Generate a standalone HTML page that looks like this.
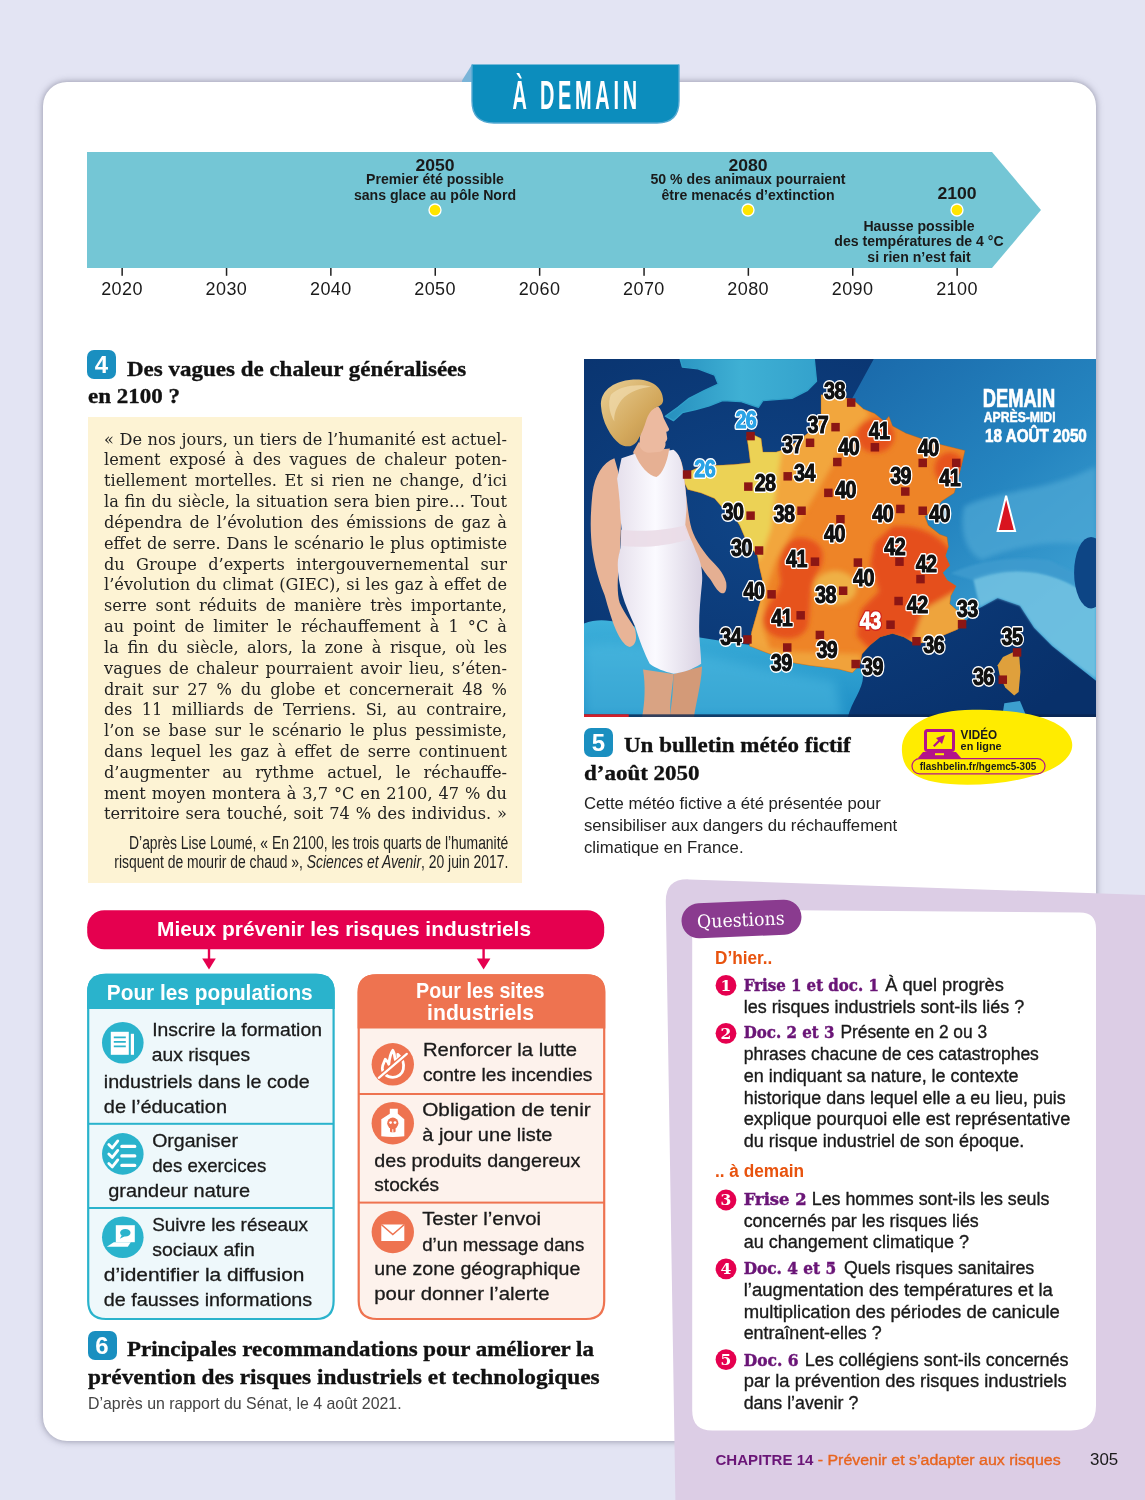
<!DOCTYPE html>
<html lang="fr">
<head>
<meta charset="utf-8">
<title>À demain</title>
<style>
*{box-sizing:border-box;margin:0;padding:0}
html,body{width:1145px;height:1500px;overflow:hidden}
body{background:#e3e4f3;position:relative;font-family:"Liberation Sans","DejaVu Sans",sans-serif;color:#1a1a1a}
.abs{position:absolute}
.nw{white-space:nowrap}
#card{left:43px;top:82px;width:1053px;height:1359px;background:#fff;border-radius:24px;box-shadow:0 0 7px 0 rgba(70,70,95,.55)}
#qpanel{left:667px;top:870px;width:478px;height:630px}
#tab{left:462px;top:64px;width:220px;height:62px}
/* timeline */
#tl{left:0;top:140px;width:1145px;height:170px}
.yr{position:absolute;top:278px;width:60px;margin-left:-30px;text-align:center;font-size:18px;line-height:22px;color:#1a1a1a;letter-spacing:.4px}
.ev{position:absolute;text-align:center;font-weight:bold;font-size:14.1px;line-height:15.4px;color:#1a1a1a;white-space:nowrap;transform:translateX(-50%)}
.ev b{font-size:15.6px;display:block;line-height:15px;position:relative;top:.8px;transform:scaleX(1.13)}
/* doc titles */
.num{position:absolute;width:29px;height:29px;border-radius:7px;background:#1a8fc0;color:#fff;font-weight:bold;font-size:24px;line-height:29px;text-align:center}
.h{position:absolute;font-family:"Liberation Serif","DejaVu Serif",serif;font-weight:bold;font-size:22px;line-height:30px;color:#111;white-space:nowrap;transform-origin:0 0;transform:scaleX(1.045);-webkit-text-stroke:.35px #111}
#ybox{left:88px;top:416.5px;width:434px;height:466.5px;background:#fdf3d4}
.jl{position:absolute;left:104px;width:403px;font-family:"DejaVu Serif","Liberation Serif",serif;font-size:16.2px;line-height:21px;height:21px;text-align:justify;text-align-last:justify;white-space:nowrap;color:#222}
.src{position:absolute;right:636.5px;font-size:18px;line-height:21px;white-space:nowrap;color:#222;transform-origin:100% 0;transform:scaleX(.772)}
.cap{position:absolute;font-size:16.7px;line-height:21.7px;color:#222;white-space:nowrap}
</style>
</head>
<body>
<div id="card" class="abs"></div>
<!--QP_S--><svg class="abs" style="left:640px;top:860px" width="505" height="640" viewBox="640 860 505 640" font-family="'Liberation Sans','DejaVu Sans',sans-serif">
<path d="M665.8,902 Q665.3,878.6 689,879.4 L1145,895 V1500 H675.4Z" fill="#dccde5"/>
<path d="M692.2,930 V1410.5 Q692.2,1430.5 712.2,1430.5 H1071 Q1096,1430.5 1096,1405.5 V928.5 Q1096,912.5 1080,912.4 L712,909.6 Q692.2,909.5 692.2,930Z" fill="#fff"/>
<g transform="rotate(-2.4 741 919)"><rect x="681.5" y="901.5" width="120" height="35" rx="17.5" fill="#8a3b8f"/><text x="697" y="926.3" font-family="'DejaVu Serif','Liberation Serif',serif" font-size="18.5" fill="#fff" textLength="87.5" lengthAdjust="spacingAndGlyphs">Questions</text></g>
<text x="715.0" y="963.8" font-size="17.5" fill="#e8530e" font-weight="bold" textLength="57.3" lengthAdjust="spacingAndGlyphs">D’hier..</text>
<text x="715.0" y="1177.2" font-size="17.5" fill="#e8530e" font-weight="bold" textLength="89.1" lengthAdjust="spacingAndGlyphs">.. à demain</text>
<circle cx="726" cy="985.4" r="10.4" fill="#e5004f"/><text x="726" y="990.8" font-size="15.5" font-weight="bold" fill="#fff" text-anchor="middle" font-family="'DejaVu Serif','Liberation Serif',serif">1</text>
<circle cx="726" cy="1033.3" r="10.4" fill="#e5004f"/><text x="726" y="1038.7" font-size="15.5" font-weight="bold" fill="#fff" text-anchor="middle" font-family="'DejaVu Serif','Liberation Serif',serif">2</text>
<circle cx="726" cy="1200.0" r="10.4" fill="#e5004f"/><text x="726" y="1205.4" font-size="15.5" font-weight="bold" fill="#fff" text-anchor="middle" font-family="'DejaVu Serif','Liberation Serif',serif">3</text>
<circle cx="726" cy="1268.8" r="10.4" fill="#e5004f"/><text x="726" y="1274.2" font-size="15.5" font-weight="bold" fill="#fff" text-anchor="middle" font-family="'DejaVu Serif','Liberation Serif',serif">4</text>
<circle cx="726" cy="1359.6" r="10.4" fill="#e5004f"/><text x="726" y="1365.0" font-size="15.5" font-weight="bold" fill="#fff" text-anchor="middle" font-family="'DejaVu Serif','Liberation Serif',serif">5</text>
<text x="743.7" y="990.7" font-size="17.5" fill="#6a1577" font-weight="bold" font-family="'DejaVu Serif','Liberation Serif',serif" stroke="#6a1577" stroke-width=".5" textLength="135.2" lengthAdjust="spacingAndGlyphs">Frise 1 et doc. 1</text>
<text x="885.2" y="990.7" font-size="18" fill="#1a1a1a" stroke="#1a1a1a" stroke-width=".35" textLength="118.7" lengthAdjust="spacingAndGlyphs">À quel progrès</text>
<text x="743.7" y="1012.7" font-size="18" fill="#1a1a1a" stroke="#1a1a1a" stroke-width=".35" textLength="280.5" lengthAdjust="spacingAndGlyphs">les risques industriels sont-ils liés ?</text>
<text x="743.7" y="1038.2" font-size="17.5" fill="#6a1577" font-weight="bold" font-family="'DejaVu Serif','Liberation Serif',serif" stroke="#6a1577" stroke-width=".5" textLength="90.8" lengthAdjust="spacingAndGlyphs">Doc. 2 et 3</text>
<text x="840.4" y="1038.2" font-size="18" fill="#1a1a1a" stroke="#1a1a1a" stroke-width=".35" textLength="146.8" lengthAdjust="spacingAndGlyphs">Présente en 2 ou 3</text>
<text x="743.7" y="1059.8" font-size="18" fill="#1a1a1a" stroke="#1a1a1a" stroke-width=".35" textLength="295.2" lengthAdjust="spacingAndGlyphs">phrases chacune de ces catastrophes</text>
<text x="743.7" y="1081.5" font-size="18" fill="#1a1a1a" stroke="#1a1a1a" stroke-width=".35" textLength="274.9" lengthAdjust="spacingAndGlyphs">en indiquant sa nature, le contexte</text>
<text x="743.7" y="1103.5" font-size="18" fill="#1a1a1a" stroke="#1a1a1a" stroke-width=".35" textLength="322.1" lengthAdjust="spacingAndGlyphs">historique dans lequel elle a eu lieu, puis</text>
<text x="743.7" y="1125.2" font-size="18" fill="#1a1a1a" stroke="#1a1a1a" stroke-width=".35" textLength="326.6" lengthAdjust="spacingAndGlyphs">explique pourquoi elle est représentative</text>
<text x="743.7" y="1146.8" font-size="18" fill="#1a1a1a" stroke="#1a1a1a" stroke-width=".35" textLength="280.5" lengthAdjust="spacingAndGlyphs">du risque industriel de son époque.</text>
<text x="743.7" y="1204.8" font-size="17.5" fill="#6a1577" font-weight="bold" font-family="'DejaVu Serif','Liberation Serif',serif" stroke="#6a1577" stroke-width=".5" textLength="62.9" lengthAdjust="spacingAndGlyphs">Frise 2</text>
<text x="811.8" y="1204.8" font-size="18" fill="#1a1a1a" stroke="#1a1a1a" stroke-width=".35" textLength="237.5" lengthAdjust="spacingAndGlyphs">Les hommes sont-ils les seuls</text>
<text x="743.7" y="1226.5" font-size="18" fill="#1a1a1a" stroke="#1a1a1a" stroke-width=".35" textLength="235.1" lengthAdjust="spacingAndGlyphs">concernés par les risques liés</text>
<text x="743.7" y="1248.2" font-size="18" fill="#1a1a1a" stroke="#1a1a1a" stroke-width=".35" textLength="225.3" lengthAdjust="spacingAndGlyphs">au changement climatique ?</text>
<text x="743.7" y="1274.4" font-size="17.5" fill="#6a1577" font-weight="bold" font-family="'DejaVu Serif','Liberation Serif',serif" stroke="#6a1577" stroke-width=".5" textLength="92.5" lengthAdjust="spacingAndGlyphs">Doc. 4 et 5</text>
<text x="843.9" y="1274.4" font-size="18" fill="#1a1a1a" stroke="#1a1a1a" stroke-width=".35" textLength="190.4" lengthAdjust="spacingAndGlyphs">Quels risques sanitaires</text>
<text x="743.7" y="1296.0" font-size="18" fill="#1a1a1a" stroke="#1a1a1a" stroke-width=".35" textLength="309.1" lengthAdjust="spacingAndGlyphs">l’augmentation des températures et la</text>
<text x="743.7" y="1317.7" font-size="18" fill="#1a1a1a" stroke="#1a1a1a" stroke-width=".35" textLength="316.1" lengthAdjust="spacingAndGlyphs">multiplication des périodes de canicule</text>
<text x="743.7" y="1339.3" font-size="18" fill="#1a1a1a" stroke="#1a1a1a" stroke-width=".35" textLength="138.0" lengthAdjust="spacingAndGlyphs">entraînent-elles ?</text>
<text x="743.7" y="1365.5" font-size="17.5" fill="#6a1577" font-weight="bold" font-family="'DejaVu Serif','Liberation Serif',serif" stroke="#6a1577" stroke-width=".5" textLength="54.8" lengthAdjust="spacingAndGlyphs">Doc. 6</text>
<text x="804.8" y="1365.5" font-size="18" fill="#1a1a1a" stroke="#1a1a1a" stroke-width=".35" textLength="263.8" lengthAdjust="spacingAndGlyphs">Les collégiens sont-ils concernés</text>
<text x="743.7" y="1387.2" font-size="18" fill="#1a1a1a" stroke="#1a1a1a" stroke-width=".35" textLength="323.1" lengthAdjust="spacingAndGlyphs">par la prévention des risques industriels</text>
<text x="743.7" y="1408.9" font-size="18" fill="#1a1a1a" stroke="#1a1a1a" stroke-width=".35" textLength="114.6" lengthAdjust="spacingAndGlyphs">dans l’avenir ?</text>
<text x="715.5" y="1464.5" font-size="14.6" fill="#6a1577" font-weight="bold" textLength="97.9" lengthAdjust="spacingAndGlyphs">CHAPITRE 14</text>
<text x="817.7" y="1464.5" font-size="15.5" fill="#e8641e" stroke="#e8641e" stroke-width=".35" textLength="243.0" lengthAdjust="spacingAndGlyphs">- Prévenir et s’adapter aux risques</text>
<text x="1090.0" y="1464.5" font-size="17" fill="#1a1a1a" textLength="28.2" lengthAdjust="spacingAndGlyphs">305</text>
</svg>
<!--QP_E-->
<svg id="tab" class="abs" viewBox="0 0 220 62" width="220" height="62">
<polygon points="-1,18 10,.5 10,18" fill="#7ab4d8"/>
<path d="M10,.5 H217 V37 Q217,59 195,59 H32 Q10,59 10,37 Z" fill="#0c8dbd"/>
<path d="M217,.5 V37 Q217,59 195,59 H32 Q10,59 10,37 V.5" fill="none" stroke="#55a9d2" stroke-width="1.4"/>
<text x="0" y="0" transform="translate(50.5,44.5) scale(.5,1)" font-family="'Liberation Sans','DejaVu Sans',sans-serif" font-weight="bold" font-size="39.8" fill="#fff" letter-spacing="7.5">À DEMAIN</text>
</svg>
<svg class="abs" style="left:0;top:0" width="1145" height="300" viewBox="0 0 1145 300">
<polygon points="87,152 992,152 1041,210 992,268 87,268" fill="#74c6d5"/>
<rect x="121.4" y="268" width="1.5" height="7.8" fill="#222"/><rect x="225.8" y="268" width="1.5" height="7.8" fill="#222"/><rect x="330.1" y="268" width="1.5" height="7.8" fill="#222"/><rect x="434.5" y="268" width="1.5" height="7.8" fill="#222"/><rect x="538.9" y="268" width="1.5" height="7.8" fill="#222"/><rect x="643.3" y="268" width="1.5" height="7.8" fill="#222"/><rect x="747.6" y="268" width="1.5" height="7.8" fill="#222"/><rect x="852.0" y="268" width="1.5" height="7.8" fill="#222"/><rect x="956.4" y="268" width="1.5" height="7.8" fill="#222"/>
<circle cx="435" cy="210" r="6" fill="#ffe500" stroke="#fff" stroke-width="1.3"/>
<circle cx="748" cy="210" r="6" fill="#ffe500" stroke="#fff" stroke-width="1.3"/>
<circle cx="957" cy="210" r="6" fill="#ffe500" stroke="#fff" stroke-width="1.3"/>
</svg>
<div class="yr" style="left:122.0px">2020</div><div class="yr" style="left:226.4px">2030</div><div class="yr" style="left:330.8px">2040</div><div class="yr" style="left:435.1px">2050</div><div class="yr" style="left:539.5px">2060</div><div class="yr" style="left:643.9px">2070</div><div class="yr" style="left:748.2px">2080</div><div class="yr" style="left:852.6px">2090</div><div class="yr" style="left:957.0px">2100</div>
<div class="ev" style="left:435px;top:157.3px"><b>2050</b>Premier été possible<br>sans glace au pôle Nord</div>
<div class="ev" style="left:748px;top:157.3px"><b>2080</b>50 % des animaux pourraient<br>être menacés d’extinction</div>
<div class="ev" style="left:957px;top:185.7px"><b>2100</b></div>
<div class="ev" style="left:919px;top:219px">Hausse possible<br>des températures de 4 °C<br>si rien n’est fait</div>

<div class="num" style="left:87px;top:350px">4</div>
<div class="h" style="left:127px;top:353.5px">Des vagues de chaleur généralisées</div>
<div class="h" style="left:88px;top:380.5px">en 2100 ?</div>
<div id="ybox" class="abs"></div>
<div class="jl" style="top:428.5px">« De nos jours, un tiers de l’humanité est actuel-</div>
<div class="jl" style="top:449.3px">lement exposé à des vagues de chaleur poten-</div>
<div class="jl" style="top:470.2px">tiellement mortelles. Et si rien ne change, d’ici</div>
<div class="jl" style="top:491.0px">la fin du siècle, la situation sera bien pire… Tout</div>
<div class="jl" style="top:511.8px">dépendra de l’évolution des émissions de gaz à</div>
<div class="jl" style="top:532.6px">effet de serre. Dans le scénario le plus optimiste</div>
<div class="jl" style="top:553.5px">du Groupe d’experts intergouvernemental sur</div>
<div class="jl" style="top:574.3px">l’évolution du climat (GIEC), si les gaz à effet de</div>
<div class="jl" style="top:595.1px">serre sont réduits de manière très importante,</div>
<div class="jl" style="top:616.0px">au point de limiter le réchauffement à 1 °C à</div>
<div class="jl" style="top:636.8px">la fin du siècle, alors, la zone à risque, où les</div>
<div class="jl" style="top:657.6px">vagues de chaleur pourraient avoir lieu, s’éten-</div>
<div class="jl" style="top:678.5px">drait sur 27 % du globe et concernerait 48 %</div>
<div class="jl" style="top:699.3px">des 11 milliards de Terriens. Si, au contraire,</div>
<div class="jl" style="top:720.1px">l’on se base sur le scénario le plus pessimiste,</div>
<div class="jl" style="top:741.0px">dans lequel les gaz à effet de serre continuent</div>
<div class="jl" style="top:761.8px">d’augmenter au rythme actuel, le réchauffe-</div>
<div class="jl" style="top:782.6px">ment moyen montera à 3,7 °C en 2100, 47 % du</div>
<div class="jl" style="top:803.4px">territoire sera touché, soit 74 % des individus. »</div>
<div class="src" style="top:832.5px">D’après Lise Loumé, « En 2100, les trois quarts de l’humanité</div>
<div class="src" style="top:851.5px">risquent de mourir de chaud », <i>Sciences et Avenir</i>, 20 juin 2017.</div>

<!--PHOTO_S--><svg class="abs" style="left:584px;top:359px" width="512" height="358" viewBox="0 0 1145 801" preserveAspectRatio="none">
<defs>
<radialGradient id="sea" cx="35%" cy="45%" r="75%"><stop offset="0" stop-color="#0f4486"/><stop offset="1" stop-color="#08306a"/></radialGradient>
<linearGradient id="land" x1="0" y1="0" x2=".6" y2="1"><stop offset="0" stop-color="#1a69aa"/><stop offset=".55" stop-color="#2585c0"/><stop offset="1" stop-color="#3fa3d4"/></linearGradient>
<linearGradient id="eng" x1="0" y1="0" x2="1" y2="0"><stop offset="0" stop-color="#268fbe"/><stop offset=".5" stop-color="#3fb0d4"/><stop offset="1" stop-color="#34a2cc"/></linearGradient>
<linearGradient id="spain" x1="0" y1="0" x2="0" y2="1"><stop offset="0" stop-color="#3db0da"/><stop offset="1" stop-color="#1f8fc6"/></linearGradient>
<linearGradient id="dress" x1="0" y1="0" x2="1" y2="0"><stop offset="0" stop-color="#e6e0ec"/><stop offset=".45" stop-color="#fbfaff"/><stop offset="1" stop-color="#d9d2e2"/></linearGradient>
<linearGradient id="hair" x1="0" y1="0" x2="1" y2="1"><stop offset="0" stop-color="#e9cf95"/><stop offset=".6" stop-color="#d3a85c"/><stop offset="1" stop-color="#b98a45"/></linearGradient>
<filter id="b6" x="-20%" y="-20%" width="140%" height="140%"><feGaussianBlur stdDeviation="6"/></filter>
<filter id="b3" x="-20%" y="-20%" width="140%" height="140%"><feGaussianBlur stdDeviation="2.5"/></filter>
<filter id="b12" x="-30%" y="-30%" width="160%" height="160%"><feGaussianBlur stdDeviation="12"/></filter>
<clipPath id="fr"><polygon points="530,80 565,84 600,90 625,112 650,122 672,140 682,128 690,150 720,166 760,180 800,192 852,205 845,235 838,262 828,300 800,318 785,338 762,352 770,372 795,392 812,398 815,420 808,440 818,462 802,478 812,495 832,508 820,530 818,548 840,568 852,585 835,605 800,620 770,632 742,638 715,622 690,614 662,622 640,640 622,660 617,684 600,702 570,694 540,690 505,686 470,680 440,668 410,658 370,642 375,610 385,575 395,540 402,520 398,490 392,465 388,440 372,420 360,400 348,372 335,352 312,335 292,312 262,300 232,292 222,272 226,256 262,240 300,238 335,236 372,232 368,200 364,174 380,170 396,178 400,208 430,208 455,200 480,182 502,165 520,145 530,125"/></clipPath>
<clipPath id="ph"><rect x="0" y="0" width="1145" height="801"/></clipPath>
</defs>
<g clip-path="url(#ph)">
<rect width="1145" height="801" fill="url(#sea)"/>
<!-- continental land east -->
<path d="M648,0 H1145 V720 L1097,682 1047,642 1007,602 975,552 925,535 880,560 850,590 800,600 700,500 600,300 600,88 Z" fill="url(#land)"/>
<path d="M850,330 C930,290 1030,300 1145,240 V420 C1060,400 960,420 890,450 C850,430 840,380 850,330Z" fill="#4fa9d6" opacity=".7" filter="url(#b6)"/>
<path d="M870,490 C960,455 1060,470 1145,540 V715 L1097,680 1047,640 1007,600 975,552 925,535 885,555Z" fill="#74c4e3" opacity=".85" filter="url(#b3)"/>
<path d="M820,480 C880,450 960,440 1040,450 L1145,500 V540 C1060,470 960,460 870,495Z" fill="#3f9ccf" opacity=".8" filter="url(#b3)"/>
<ellipse cx="1134" cy="478" rx="38" ry="80" fill="#0d4585"/>
<!-- england -->
<path d="M215,0 H515 L520,50 500,70 465,88 400,93 390,108 350,95 310,93 280,105 250,113 220,120 200,138 182,128 210,108 235,88 270,70 300,56 292,36 255,22 220,18Z" fill="url(#eng)" stroke="#30a0c9" stroke-width="3" stroke-linejoin="round"/>
<!-- spain -->
<path d="M0,592 C40,575 80,590 120,600 C200,612 280,628 372,640 L470,680 617,690 C640,720 600,760 590,801 H0Z" fill="url(#spain)"/>
<path d="M0,640 C150,620 300,680 560,720 L580,801 H0Z" fill="#55c0e4" opacity=".45" filter="url(#b12)"/>
<path d="M940,770 L975,765 990,801 H935Z" fill="#3c9fcf"/>
<!-- france -->
<polygon points="530,80 565,84 600,90 625,112 650,122 672,140 682,128 690,150 720,166 760,180 800,192 852,205 845,235 838,262 828,300 800,318 785,338 762,352 770,372 795,392 812,398 815,420 808,440 818,462 802,478 812,495 832,508 820,530 818,548 840,568 852,585 835,605 800,620 770,632 742,638 715,622 690,614 662,622 640,640 622,660 617,684 600,702 570,694 540,690 505,686 470,680 440,668 410,658 370,642 375,610 385,575 395,540 402,520 398,490 392,465 388,440 372,420 360,400 348,372 335,352 312,335 292,312 262,300 232,292 222,272 226,256 262,240 300,238 335,236 372,232 368,200 364,174 380,170 396,178 400,208 430,208 455,200 480,182 502,165 520,145 530,125" fill="#ee8427"/>
<g clip-path="url(#fr)">
 <g filter="url(#b6)">
  <path d="M520,60 L610,85 640,125 590,170 560,230 520,300 470,380 430,450 405,520 400,600 420,660 360,650 380,520 360,400 420,200Z" fill="#f2a63c"/>
  <path d="M150,220 L360,150 400,150 442,205 428,300 418,380 394,448 340,430 280,340 150,320Z" fill="#ecd255"/>
  <ellipse cx="652" cy="172" rx="42" ry="38" fill="#e6521f"/>
  <ellipse cx="818" cy="245" rx="34" ry="36" fill="#e6521f"/>
  <path d="M480,400 C540,400 545,450 520,480 C500,510 510,560 500,600 C480,640 410,630 400,590 C395,560 430,540 440,500 C430,450 440,410 480,400Z" fill="#e6521f"/>
  <path d="M690,375 C760,370 800,400 830,440 L860,600 760,640 700,620 640,650 610,620 620,560 660,520 640,460 650,410Z" fill="#e5501e"/>
  <ellipse cx="562" cy="512" rx="48" ry="38" fill="#efb045"/>
  <path d="M370,640 L470,655 620,660 620,710 360,700Z" fill="#f0a23a"/>
  <path d="M760,560 L830,520 870,590 800,640 730,640Z" fill="#eea43c"/>
 </g>
</g>
<polygon points="530,80 565,84 600,90 625,112 650,122 672,140 682,128 690,150 720,166 760,180 800,192 852,205 845,235 838,262 828,300 800,318 785,338 762,352 770,372 795,392 812,398 815,420 808,440 818,462 802,478 812,495 832,508 820,530 818,548 840,568 852,585 835,605 800,620 770,632 742,638 715,622 690,614 662,622 640,640 622,660 617,684 600,702 570,694 540,690 505,686 470,680 440,668 410,658 370,642 375,610 385,575 395,540 402,520 398,490 392,465 388,440 372,420 360,400 348,372 335,352 312,335 292,312 262,300 232,292 222,272 226,256 262,240 300,238 335,236 372,232 368,200 364,174 380,170 396,178 400,208 430,208 455,200 480,182 502,165 520,145 530,125" fill="none" stroke="#a8601c" stroke-width="1.5" opacity=".5"/>
<!-- corsica -->
<polygon points="962,655 973,660 976,700 972,745 962,753 942,735 930,710 925,685 937,667" fill="#dfa03c"/>
<!-- triangle logo -->
<polygon points="944,306 925,385 964,385" fill="#d9141f" stroke="#fff" stroke-width="4.5" stroke-linejoin="miter"/>
<!-- person -->
<g>
<path d="M132,695 L200,705 C198,740 190,770 194,801 H130 C136,770 138,730 132,695Z" fill="#d9a383"/>
<path d="M200,705 L264,688 C262,730 250,770 246,801 H192 C196,770 200,740 200,705Z" fill="#d39a78"/>
<path d="M68,222 C42,232 24,260 19,300 C15,340 14,370 16,400 C18,440 30,490 46,528 C54,556 64,592 76,616 C84,632 96,646 104,644 C114,640 120,630 114,604 C106,588 92,572 80,546 C72,520 76,480 80,440 C82,400 84,360 82,320 C80,290 78,268 76,250Z" fill="#e8b497"/>
<path d="M197,203 C212,208 221,230 224,260 C228,300 232,340 238,370 C244,398 262,424 280,446 C296,462 312,478 318,500 C320,516 316,526 308,524 C298,520 290,504 282,492 C268,476 246,440 234,412 C224,380 220,340 218,300Z" fill="#e5af92"/>
<path d="M122,186 L174,202 192,200 190,218 C186,242 176,264 162,270 C146,268 122,246 112,218 L110,208Z" fill="#e6b093"/>
<path d="M84,222 L114,212 C124,240 146,262 162,264 C176,258 186,230 190,205 L200,203 C210,210 218,222 222,255 C226,285 232,320 228,350 L226,378 C232,392 244,410 250,430 C260,450 266,470 264,500 C260,540 256,580 258,620 C260,650 262,670 262,682 C240,696 220,702 200,704 C180,700 160,692 147,682 C136,660 124,630 115,600 C104,575 92,550 85,525 C78,500 74,470 76,450 C78,435 82,425 82,415 L84,380 C82,360 80,340 80,320 C78,300 76,280 74,268Z" fill="url(#dress)"/>
<path d="M83,382 C130,388 190,382 227,372 L238,402 C190,418 130,424 83,418Z" fill="#eadbe7" opacity=".9"/>
<path d="M166,106 C172,112 176,122 178,132 L190,156 C191,160 188,162 184,163 L186,176 C187,180 184,183 182,186 C184,196 178,207 166,208 L145,210 C132,208 124,200 124,190 L126,166 C130,150 136,128 146,117 C152,111 160,107 166,106Z" fill="#ecbaa0"/>
<path d="M38,105 C36,75 60,50 110,46 C150,44 176,62 177,92 C177,100 172,104 166,106 C154,110 146,118 140,135 C134,155 128,170 118,185 C108,198 92,198 80,190 C60,175 40,140 38,105Z" fill="url(#hair)"/>
<path d="M60,80 C80,60 120,55 150,62 C130,64 100,72 84,92 C72,108 66,126 68,140 C58,124 52,100 60,80Z" fill="#f1dcae" opacity=".7"/>
</g>
<rect x="0" y="795" width="1145" height="6" fill="#0a2550" opacity=".8"/>
<rect x="0" y="795" width="100" height="6" fill="#d21f2a"/>
<g><rect x="588" y="88" width="19" height="19" fill="#8c1614"/><rect x="553" y="143" width="19" height="19" fill="#8c1614"/><rect x="496" y="178" width="19" height="19" fill="#8c1614"/><rect x="641" y="188" width="19" height="19" fill="#8c1614"/><rect x="557" y="221" width="19" height="19" fill="#8c1614"/><rect x="748" y="223" width="19" height="19" fill="#8c1614"/><rect x="446" y="253" width="19" height="19" fill="#8c1614"/><rect x="358" y="276" width="19" height="19" fill="#8c1614"/><rect x="709" y="287" width="19" height="19" fill="#8c1614"/><rect x="823" y="223" width="19" height="19" fill="#8c1614"/><rect x="537" y="290" width="19" height="19" fill="#8c1614"/><rect x="363" y="341" width="19" height="19" fill="#8c1614"/><rect x="477" y="330" width="19" height="19" fill="#8c1614"/><rect x="698" y="326" width="19" height="19" fill="#8c1614"/><rect x="748" y="330" width="19" height="19" fill="#8c1614"/><rect x="564" y="349" width="19" height="19" fill="#8c1614"/><rect x="382" y="419" width="19" height="19" fill="#8c1614"/><rect x="696" y="444" width="19" height="19" fill="#8c1614"/><rect x="507" y="444" width="19" height="19" fill="#8c1614"/><rect x="743" y="483" width="19" height="19" fill="#8c1614"/><rect x="603" y="446" width="19" height="19" fill="#8c1614"/><rect x="410" y="517" width="19" height="19" fill="#8c1614"/><rect x="570" y="509" width="19" height="19" fill="#8c1614"/><rect x="694" y="532" width="19" height="19" fill="#8c1614"/><rect x="836" y="584" width="19" height="19" fill="#8c1614"/><rect x="475" y="564" width="19" height="19" fill="#8c1614"/><rect x="356" y="618" width="19" height="19" fill="#8c1614"/><rect x="518" y="608" width="19" height="19" fill="#8c1614"/><rect x="734" y="622" width="19" height="19" fill="#8c1614"/><rect x="445" y="636" width="19" height="19" fill="#8c1614"/><rect x="598" y="673" width="19" height="19" fill="#8c1614"/><rect x="959" y="647" width="19" height="19" fill="#8c1614"/><rect x="927" y="708" width="19" height="19" fill="#8c1614"/><rect x="363" y="163" width="19" height="19" fill="#8c1614"/><rect x="221" y="249" width="19" height="19" fill="#8c1614"/><rect x="676" y="585" width="19" height="19" fill="#8c1614"/></g>
<g font-family="'Liberation Sans','DejaVu Sans',sans-serif" font-weight="bold" font-size="52" text-anchor="middle" stroke-width="8.5" paint-order="stroke" stroke-linejoin="round" letter-spacing="-1.5"><text transform="translate(560,90) scale(.85,1)" fill="#111" stroke="#fff">38</text><text transform="translate(523,165) scale(.85,1)" fill="#111" stroke="#fff">37</text><text transform="translate(466,211) scale(.85,1)" fill="#111" stroke="#fff">37</text><text transform="translate(660,180) scale(.85,1)" fill="#111" stroke="#fff">41</text><text transform="translate(592,215) scale(.85,1)" fill="#111" stroke="#fff">40</text><text transform="translate(770,218) scale(.85,1)" fill="#111" stroke="#fff">40</text><text transform="translate(493,273) scale(.85,1)" fill="#111" stroke="#fff">34</text><text transform="translate(405,295) scale(.85,1)" fill="#111" stroke="#fff">28</text><text transform="translate(708,280) scale(.85,1)" fill="#111" stroke="#fff">39</text><text transform="translate(818,285) scale(.85,1)" fill="#111" stroke="#fff">41</text><text transform="translate(585,310) scale(.85,1)" fill="#111" stroke="#fff">40</text><text transform="translate(333,361) scale(.85,1)" fill="#111" stroke="#fff">30</text><text transform="translate(447,365) scale(.85,1)" fill="#111" stroke="#fff">38</text><text transform="translate(668,365) scale(.85,1)" fill="#111" stroke="#fff">40</text><text transform="translate(795,365) scale(.85,1)" fill="#111" stroke="#fff">40</text><text transform="translate(560,410) scale(.85,1)" fill="#111" stroke="#fff">40</text><text transform="translate(352,440) scale(.85,1)" fill="#111" stroke="#fff">30</text><text transform="translate(695,438) scale(.85,1)" fill="#111" stroke="#fff">42</text><text transform="translate(475,465) scale(.85,1)" fill="#111" stroke="#fff">41</text><text transform="translate(765,476) scale(.85,1)" fill="#111" stroke="#fff">42</text><text transform="translate(625,508) scale(.85,1)" fill="#111" stroke="#fff">40</text><text transform="translate(380,536) scale(.85,1)" fill="#111" stroke="#fff">40</text><text transform="translate(540,545) scale(.85,1)" fill="#111" stroke="#fff">38</text><text transform="translate(745,568) scale(.85,1)" fill="#111" stroke="#fff">42</text><text transform="translate(857,578) scale(.85,1)" fill="#111" stroke="#fff">33</text><text transform="translate(442,598) scale(.85,1)" fill="#111" stroke="#fff">41</text><text transform="translate(328,640) scale(.85,1)" fill="#111" stroke="#fff">34</text><text transform="translate(543,668) scale(.85,1)" fill="#111" stroke="#fff">39</text><text transform="translate(782,658) scale(.85,1)" fill="#111" stroke="#fff">36</text><text transform="translate(441,698) scale(.85,1)" fill="#111" stroke="#fff">39</text><text transform="translate(645,708) scale(.85,1)" fill="#111" stroke="#fff">39</text><text transform="translate(957,640) scale(.85,1)" fill="#111" stroke="#fff">35</text><text transform="translate(893,730) scale(.85,1)" fill="#111" stroke="#fff">36</text><text transform="translate(362,155) scale(.85,1)" fill="#2aa3e6" stroke="#fff">26</text><text transform="translate(270,265) scale(.85,1)" fill="#2aa3e6" stroke="#fff">26</text><text transform="translate(640,603) scale(.85,1)" fill="#fff" stroke="#d2261e">43</text></g>
<g font-family="'Liberation Sans','DejaVu Sans',sans-serif" font-weight="bold" font-size="52" text-anchor="middle" stroke-width="2" letter-spacing="-1.5"><text transform="translate(560,90) scale(.85,1)" fill="#111" stroke="#111">38</text><text transform="translate(523,165) scale(.85,1)" fill="#111" stroke="#111">37</text><text transform="translate(466,211) scale(.85,1)" fill="#111" stroke="#111">37</text><text transform="translate(660,180) scale(.85,1)" fill="#111" stroke="#111">41</text><text transform="translate(592,215) scale(.85,1)" fill="#111" stroke="#111">40</text><text transform="translate(770,218) scale(.85,1)" fill="#111" stroke="#111">40</text><text transform="translate(493,273) scale(.85,1)" fill="#111" stroke="#111">34</text><text transform="translate(405,295) scale(.85,1)" fill="#111" stroke="#111">28</text><text transform="translate(708,280) scale(.85,1)" fill="#111" stroke="#111">39</text><text transform="translate(818,285) scale(.85,1)" fill="#111" stroke="#111">41</text><text transform="translate(585,310) scale(.85,1)" fill="#111" stroke="#111">40</text><text transform="translate(333,361) scale(.85,1)" fill="#111" stroke="#111">30</text><text transform="translate(447,365) scale(.85,1)" fill="#111" stroke="#111">38</text><text transform="translate(668,365) scale(.85,1)" fill="#111" stroke="#111">40</text><text transform="translate(795,365) scale(.85,1)" fill="#111" stroke="#111">40</text><text transform="translate(560,410) scale(.85,1)" fill="#111" stroke="#111">40</text><text transform="translate(352,440) scale(.85,1)" fill="#111" stroke="#111">30</text><text transform="translate(695,438) scale(.85,1)" fill="#111" stroke="#111">42</text><text transform="translate(475,465) scale(.85,1)" fill="#111" stroke="#111">41</text><text transform="translate(765,476) scale(.85,1)" fill="#111" stroke="#111">42</text><text transform="translate(625,508) scale(.85,1)" fill="#111" stroke="#111">40</text><text transform="translate(380,536) scale(.85,1)" fill="#111" stroke="#111">40</text><text transform="translate(540,545) scale(.85,1)" fill="#111" stroke="#111">38</text><text transform="translate(745,568) scale(.85,1)" fill="#111" stroke="#111">42</text><text transform="translate(857,578) scale(.85,1)" fill="#111" stroke="#111">33</text><text transform="translate(442,598) scale(.85,1)" fill="#111" stroke="#111">41</text><text transform="translate(328,640) scale(.85,1)" fill="#111" stroke="#111">34</text><text transform="translate(543,668) scale(.85,1)" fill="#111" stroke="#111">39</text><text transform="translate(782,658) scale(.85,1)" fill="#111" stroke="#111">36</text><text transform="translate(441,698) scale(.85,1)" fill="#111" stroke="#111">39</text><text transform="translate(645,708) scale(.85,1)" fill="#111" stroke="#111">39</text><text transform="translate(957,640) scale(.85,1)" fill="#111" stroke="#111">35</text><text transform="translate(893,730) scale(.85,1)" fill="#111" stroke="#111">36</text><text transform="translate(362,155) scale(.85,1)" fill="#2aa3e6" stroke="#2aa3e6">26</text><text transform="translate(270,265) scale(.85,1)" fill="#2aa3e6" stroke="#2aa3e6">26</text><text transform="translate(640,603) scale(.85,1)" fill="#fff" stroke="#fff">43</text></g>
<g font-family="'Liberation Sans','DejaVu Sans',sans-serif" font-weight="bold" fill="#fff" stroke="#fff" stroke-width="1.6">
<text transform="translate(892,107) scale(.72,1)" font-size="57">DEMAIN</text>
<text transform="translate(894,140) scale(.88,1)" font-size="31" stroke-width="1">APRÈS-MIDI</text>
<text transform="translate(897,186) scale(.81,1)" font-size="42">18 AOÛT 2050</text>
</g>
</g>
</svg>
<!--PHOTO_E-->
<div class="num" style="left:584px;top:727.5px">5</div>
<div class="h" style="left:623.5px;top:730px">Un bulletin météo fictif</div>
<div class="h" style="left:584px;top:757.5px">d’août 2050</div>
<div class="cap" style="left:584px;top:793.3px">Cette météo fictive a été présentée pour<br>sensibiliser aux dangers du réchauffement<br>climatique en France.</div>
<svg class="abs" style="left:895px;top:700px" width="190" height="95" viewBox="0 0 190 95">
<path d="M7,52 C5,28 30,12 70,10 C110,8 150,14 168,28 C184,42 180,60 150,72 C120,84 70,88 40,82 C18,78 8,68 7,52Z" fill="#ffec00"/>
<rect x="30.5" y="30.5" width="28" height="20" rx="2" fill="none" stroke="#b3128b" stroke-width="3"/>
<path d="M28,52 H61 L66,58 H23Z" fill="#b3128b"/>
<rect x="40" y="53.2" width="9" height="2" fill="#ffec00"/>
<path d="M50,35 L47,44 44.8,41.8 39.5,47 38,45.5 43.2,40.2 41,38Z" fill="#b3128b"/>
<rect x="17" y="58.6" width="133" height="15.2" rx="7.6" fill="#ffec00" stroke="#b3128b" stroke-width="1.2"/>
<text x="65.6" y="38.8" font-family="'Liberation Sans','DejaVu Sans',sans-serif" font-weight="bold" font-size="12" fill="#1a1a1a" textLength="36.5" lengthAdjust="spacingAndGlyphs">VIDÉO</text>
<text x="65.6" y="49.8" font-family="'Liberation Sans','DejaVu Sans',sans-serif" font-weight="bold" font-size="11.5" fill="#1a1a1a" textLength="41" lengthAdjust="spacingAndGlyphs">en ligne</text>
<text x="24.7" y="69.7" font-family="'Liberation Sans','DejaVu Sans',sans-serif" font-weight="bold" font-size="11.3" fill="#1a1a1a" textLength="116.5" lengthAdjust="spacingAndGlyphs">flashbelin.fr/hgemc5-305</text>
</svg>

<!--DG_S--><svg class="abs" style="left:0;top:900px" width="640" height="430" viewBox="0 900 640 430" font-family="'Liberation Sans','DejaVu Sans',sans-serif">
<rect x="87.2" y="910.2" width="517" height="39.1" rx="17" fill="#e5004f"/>
<text x="157.0" y="936.0" font-size="20.5" fill="#fff" font-weight="bold" textLength="374.0" lengthAdjust="spacingAndGlyphs">Mieux prévenir les risques industriels</text>
<path d="M209.0,948 V960" stroke="#e5004f" stroke-width="2.4" fill="none"/><path d="M202.2,958.5 H215.8 L209.0,969.6Z" fill="#e5004f"/>
<path d="M483.6,948 V960" stroke="#e5004f" stroke-width="2.4" fill="none"/><path d="M476.8,958.5 H490.4 L483.6,969.6Z" fill="#e5004f"/>
<path d="M88.2,1008 V992 Q88.2,974.8 106,974.8 H316 Q333.6,974.8 333.6,992 V1301 Q333.6,1319 316,1319 H106 Q88.2,1319 88.2,1301Z" fill="#eef8fb" stroke="#2ab3cc" stroke-width="2.2"/>
<path d="M87.1,1009 V992 Q87.1,973.7 106,973.7 H316 Q334.7,973.7 334.7,992 V1009Z" fill="#2ab3cc"/>
<rect x="88" y="1122.8" width="246" height="2" fill="#2ab3cc"/><rect x="88" y="1207" width="246" height="2" fill="#2ab3cc"/>
<text x="106.8" y="999.7" font-size="21.5" fill="#fff" font-weight="bold" textLength="205.9" lengthAdjust="spacingAndGlyphs">Pour les populations</text>
<path d="M358.7,1028 V992 Q358.7,975.4 377,975.4 H586 Q604.2,975.4 604.2,992 V1301 Q604.2,1319 586,1319 H377 Q358.7,1319 358.7,1301Z" fill="#fdf2ec" stroke="#ee7350" stroke-width="2.2"/>
<path d="M357.6,1028.5 V992 Q357.6,974.3 377,974.3 H586 Q605.3,974.3 605.3,992 V1028.5Z" fill="#ee7350"/>
<rect x="358.5" y="1093" width="246" height="2" fill="#ee7350"/><rect x="358.5" y="1201.6" width="246" height="2" fill="#ee7350"/>
<text x="416.0" y="997.9" font-size="21.5" fill="#fff" font-weight="bold" textLength="128.4" lengthAdjust="spacingAndGlyphs">Pour les sites</text>
<text x="427.1" y="1020.3" font-size="21.5" fill="#fff" font-weight="bold" textLength="106.9" lengthAdjust="spacingAndGlyphs">industriels</text>
<circle cx="122.8" cy="1042.8" r="20.8" fill="#2ab3cc"/><circle cx="122.8" cy="1153.9" r="20.8" fill="#2ab3cc"/><circle cx="122.8" cy="1237.2" r="20.8" fill="#2ab3cc"/>
<circle cx="392.8" cy="1064.3" r="21.2" fill="#ee7350"/><circle cx="392.8" cy="1123.2" r="21.2" fill="#ee7350"/><circle cx="392.8" cy="1232" r="21.2" fill="#ee7350"/>
<g transform="translate(122.8,1042.8)"><rect x="-12" y="-11" width="18" height="23" fill="#fff"/><rect x="8" y="-9" width="3.2" height="21" fill="#fff"/><g stroke="#2ab3cc" stroke-width="1.8"><path d="M-9,-5.5 H3 M-9,-1 H3 M-9,3.5 H3"/></g></g>
<g transform="translate(122.8,1153.9)" stroke="#fff" fill="none" stroke-linecap="round" stroke-linejoin="round"><path d="M-1,-7.5 H12 M-1,2 H12 M-1,11.5 H12" stroke-width="3.2"/><path d="M-14,-9.5 L-10.5,-6 -5,-13 M-14,0 L-10.5,3.5 -5,-3.5 M-14,9.5 L-10.5,13 -5,6" stroke-width="2.8"/></g>
<g transform="translate(122.8,1237.2)"><path d="M-7,-12 H12 V5 H-7Z" fill="#fff"/><path d="M-9,5 H8 L5,9.5 H-16Z" fill="#fff"/><ellipse cx="2.5" cy="-4.5" rx="5.2" ry="3.8" fill="#2ab3cc"/><path d="M-1,-2 L-3,1.5 2,-1Z" fill="#2ab3cc"/></g>
<g transform="translate(392.8,1064.3)" fill="none" stroke="#fff" stroke-linejoin="round" stroke-linecap="round"><path d="M0,-14 C3,-9 1,-5 3.5,-3 C5.5,-5 5.5,-8 5,-10 C9.5,-6 11.5,0 10.5,5 C9.5,10 5,13 0,13 C-6,13 -10.5,9 -10.5,4 C-10.5,0 -8.5,-2 -7.5,-5 C-5.5,-3 -4.5,-2 -4,0 C-3.5,-5 -3,-10 0,-14Z" stroke-width="2.8"/><path d="M-13,12.5 L13,-9.5" stroke="#ee7350" stroke-width="5"/><path d="M-14,13.5 L14,-10.5" stroke-width="2.2"/></g>
<g transform="translate(392.8,1123.2)"><path d="M-3,-14.5 H5 V-9.5 L11.5,-4 V13 Q0,14.5 -11.5,13 V-4 L-3,-9.5Z" fill="#fff"/><circle cx="0" cy="0" r="5.6" fill="#ee7350"/><rect x="-2.8" y="3.5" width="5.6" height="5.5" rx="1" fill="#ee7350"/><circle cx="-2.2" cy="-.6" r="1.4" fill="#fff"/><circle cx="2.2" cy="-.6" r="1.4" fill="#fff"/><rect x="-.5" y="6" width="1" height="3" fill="#fff"/></g>
<g transform="translate(392.8,1232)"><rect x="-11.5" y="-7.5" width="23" height="16.5" fill="#fff"/><path d="M-11.5,-7.5 L0,2.5 11.5,-7.5" fill="none" stroke="#ee7350" stroke-width="1.6"/></g>
<g stroke="#1a1a1a" stroke-width=".3"><text x="152.2" y="1035.9" font-size="18.6" fill="#1a1a1a" textLength="169.7" lengthAdjust="spacingAndGlyphs">Inscrire la formation</text>
<text x="151.8" y="1060.9" font-size="18.6" fill="#1a1a1a" textLength="98.3" lengthAdjust="spacingAndGlyphs">aux risques</text>
<text x="103.8" y="1088.0" font-size="18.6" fill="#1a1a1a" textLength="205.8" lengthAdjust="spacingAndGlyphs">industriels dans le code</text>
<text x="103.8" y="1112.7" font-size="18.6" fill="#1a1a1a" textLength="123.2" lengthAdjust="spacingAndGlyphs">de l’éducation</text>
<text x="152.2" y="1146.7" font-size="18.6" fill="#1a1a1a" textLength="85.7" lengthAdjust="spacingAndGlyphs">Organiser</text>
<text x="152.2" y="1171.7" font-size="18.6" fill="#1a1a1a" textLength="114.1" lengthAdjust="spacingAndGlyphs">des exercices</text>
<text x="108.2" y="1196.7" font-size="18.6" fill="#1a1a1a" textLength="141.9" lengthAdjust="spacingAndGlyphs">grandeur nature</text>
<text x="152.2" y="1230.7" font-size="18.6" fill="#1a1a1a" textLength="155.8" lengthAdjust="spacingAndGlyphs">Suivre les réseaux</text>
<text x="152.2" y="1255.7" font-size="18.6" fill="#1a1a1a" textLength="102.6" lengthAdjust="spacingAndGlyphs">sociaux afin</text>
<text x="103.8" y="1281.2" font-size="18.6" fill="#1a1a1a" textLength="200.7" lengthAdjust="spacingAndGlyphs">d’identifier la diffusion</text>
<text x="103.8" y="1306.0" font-size="18.6" fill="#1a1a1a" textLength="208.4" lengthAdjust="spacingAndGlyphs">de fausses informations</text>
<text x="422.9" y="1056.4" font-size="18.6" fill="#1a1a1a" textLength="154.0" lengthAdjust="spacingAndGlyphs">Renforcer la lutte</text>
<text x="422.9" y="1081.2" font-size="18.6" fill="#1a1a1a" textLength="169.5" lengthAdjust="spacingAndGlyphs">contre les incendies</text>
<text x="422.2" y="1116.3" font-size="18.6" fill="#1a1a1a" textLength="168.5" lengthAdjust="spacingAndGlyphs">Obligation de tenir</text>
<text x="422.2" y="1141.3" font-size="18.6" fill="#1a1a1a" textLength="130.3" lengthAdjust="spacingAndGlyphs">à jour une liste</text>
<text x="374.3" y="1166.5" font-size="18.6" fill="#1a1a1a" textLength="206.0" lengthAdjust="spacingAndGlyphs">des produits dangereux</text>
<text x="374.3" y="1191.0" font-size="18.6" fill="#1a1a1a" textLength="64.8" lengthAdjust="spacingAndGlyphs">stockés</text>
<text x="422.2" y="1225.0" font-size="18.6" fill="#1a1a1a" textLength="118.8" lengthAdjust="spacingAndGlyphs">Tester l’envoi</text>
<text x="422.2" y="1250.5" font-size="18.6" fill="#1a1a1a" textLength="162.1" lengthAdjust="spacingAndGlyphs">d’un message dans</text>
<text x="374.3" y="1275.3" font-size="18.6" fill="#1a1a1a" textLength="206.0" lengthAdjust="spacingAndGlyphs">une zone géographique</text>
<text x="374.3" y="1300.3" font-size="18.6" fill="#1a1a1a" textLength="175.2" lengthAdjust="spacingAndGlyphs">pour donner l’alerte</text>
</g></svg>
<!--DG_E-->
<div class="num" style="left:87.5px;top:1331px">6</div>
<div class="h" style="left:127px;top:1334px;transform:scaleX(1.042)">Principales recommandations pour améliorer la</div>
<div class="h" style="left:88px;top:1362px;transform:scaleX(1.061)">prévention des risques industriels et technologiques</div>
<div class="abs nw" style="left:88px;top:1393.5px;font-size:15.9px;line-height:20px;color:#444">D’après un rapport du Sénat, le 4 août 2021.</div>

<!--FOOTER-->
</body>
</html>
